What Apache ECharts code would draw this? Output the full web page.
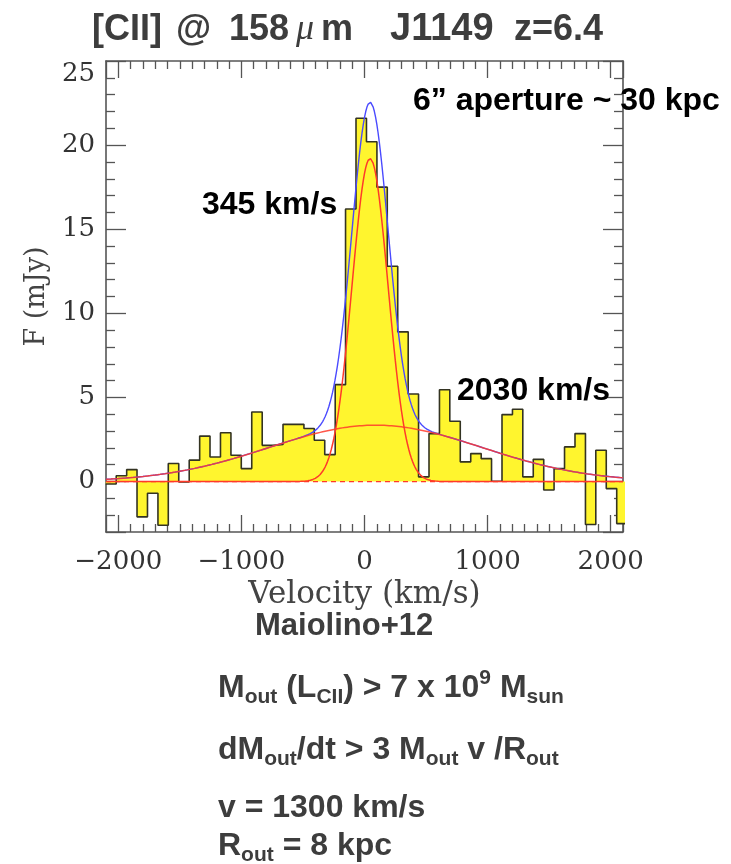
<!DOCTYPE html>
<html>
<head>
<meta charset="utf-8">
<title>[CII] 158 um spectrum of J1149</title>
<script src="https://cdn.jsdelivr.net/npm/echarts@6/dist/echarts.min.js"></script>
<style>
  html, body { margin: 0; padding: 0; background: #ffffff; }
  #chart { width: 731px; height: 864px; }
</style>
</head>
<body>
<div id="chart"></div>
<script>
// Spectrum channels: left edge of every channel (km/s), plus the closing edge
const channelEdges = [
  -2102, -2017, -1932, -1848, -1763, -1678, -1594, -1509, -1424, -1339,
  -1255, -1170, -1085, -1001, -916, -831, -747, -662, -577, -492,
  -408, -323, -238, -154, -69, 16, 101, 185, 270, 355,
  439, 524, 609, 693, 778, 863, 948, 1032, 1117, 1202,
  1286, 1371, 1456, 1540, 1625, 1710, 1795, 1879, 1964, 2049,
  2134
];
// Flux density in each channel (mJy)
const channelFlux = [
  -0.15, 0.34, 0.71, -2.1, -0.7, -2.6, 1.07, -0.02, 1.27, 2.7,
  1.46, 2.9, 1.56, 0.77, 4.13, 2.15, 2.2, 3.4, 3.4, 3.15,
  2.45, 1.6, 5.76, 16.2, 21.6, 20.2, 17.5, 12.8, 8.9, 5.2,
  0.28, 2.85, 5.46, 3.58, 1.17, 1.66, 1.36, 0.02, 3.98, 4.3,
  0.28, 1.32, -0.5, 0.77, 2.06, 2.85, -2.55, 1.86, -0.42, -2.5
];
// Two-Gaussian fit: narrow core and broad outflow wings
const fitAmplitude = [19.2, 3.35];   // mJy
const fitCenter = [45, 90];          // km/s
const fitFwhm = [345, 2030];         // km/s
// Axis ranges and tick labels
const velocityRange = [-2100, 2100];
const fluxRange = [-3, 25];
const velocityTickLabels = [-2000, -1000, 0, 1000, 2000];
const fluxTickLabels = [0, 5, 10, 15, 20, 25];

const SERIF = '"DejaVu Serif", "Liberation Serif", serif';
const SANS = '"Liberation Sans", Arial, Helvetica, sans-serif';
const RED = '#ff3a2a';
const BLUE = '#4a4aff';
const FRAME = '#555555';

function gaussian(v, a, c, fwhm) {
  const s = fwhm / 2.354820045;
  return a * Math.exp(-0.5 * Math.pow((v - c) / s, 2));
}

// histogram drawn as a step line from the channel edges
const histData = channelFlux.map((f, i) => [channelEdges[i], f]);
histData.push([channelEdges[channelEdges.length - 1], channelFlux[channelFlux.length - 1]]);

// model curves evaluated on a fine velocity grid
const grid = [];
for (let v = velocityRange[0]; v <= velocityRange[1]; v += 10) grid.push(v);
const narrowCurve = grid.map(v => [v, gaussian(v, fitAmplitude[0], fitCenter[0], fitFwhm[0])]);
const broadCurve = grid.map(v => [v, gaussian(v, fitAmplitude[1], fitCenter[1], fitFwhm[1])]);
const totalCurve = grid.map((v, i) => [v, narrowCurve[i][1] + broadCurve[i][1]]);
const zeroLevel = [[velocityRange[0], 0], [velocityRange[1], 0]];

const minus = s => String(s).replace('-', '\u2212');

function xAxisDef(pos, withLabels) {
  return {
    type: 'value', position: pos,
    min: velocityRange[0], max: velocityRange[1], splitNumber: 5,
    axisLine: { show: true, onZero: false, lineStyle: { color: FRAME, width: 1.6 } },
    axisTick: { show: true, inside: true, length: 17, lineStyle: { color: FRAME, width: 1.3 } },
    minorTick: { show: true, splitNumber: 10, length: 8, lineStyle: { color: FRAME, width: 1.3 } },
    splitLine: { show: false },
    axisLabel: {
      show: withLabels, margin: 17, color: '#333', fontFamily: SERIF, fontSize: 26,
      formatter: v => velocityTickLabels.includes(v) ? minus(v) : ''
    },
    name: withLabels ? 'Velocity (km/s)' : '',
    nameLocation: 'middle', nameGap: 45,
    nameTextStyle: { color: '#444', fontFamily: SERIF, fontSize: 31 }
  };
}

function yAxisDef(pos, withLabels) {
  return {
    type: 'value', position: pos,
    min: fluxRange[0], max: fluxRange[1], splitNumber: 5,
    axisLine: { show: true, onZero: false, lineStyle: { color: FRAME, width: 1.6 } },
    axisTick: { show: true, inside: true, length: 20, lineStyle: { color: FRAME, width: 1.3 } },
    minorTick: { show: true, splitNumber: 5, length: 9, lineStyle: { color: FRAME, width: 1.3 } },
    splitLine: { show: false },
    axisLabel: {
      show: withLabels, margin: 11, color: '#333', fontFamily: SERIF, fontSize: 26,
      formatter: v => {
        if (!fluxTickLabels.includes(v)) return '';
        return v === fluxRange[1] ? '{top|' + v + '}' : minus(v);
      },
      rich: { top: { padding: [26, 0, 0, 0], color: '#333', fontFamily: SERIF, fontSize: 26 } }
    },
    name: withLabels ? 'F (mJy)' : '',
    nameLocation: 'middle', nameGap: 56, nameRotate: 90,
    nameTextStyle: { color: '#444', fontFamily: SERIF, fontSize: 27 }
  };
}

const boldSans = size => 'bold ' + size + 'px ' + SANS;
const GREY = '#3d3d3d';

function label(x, y, text, color, font, rich) {
  const style = { text: text, fill: color, align: 'left', verticalAlign: 'middle' };
  if (font) style.font = font;
  if (rich) style.rich = rich;
  return { type: 'text', x: x, y: y, z: 100, style: style };
}

const eqRich = {
  m: { font: boldSans(32), fill: GREY, lineHeight: 40 },
  s: { font: boldSans(21), fill: GREY, lineHeight: 21, verticalAlign: 'bottom' },
  p: { font: boldSans(21), fill: GREY, lineHeight: 32, verticalAlign: 'top' }
};

// title pieces
const titleFont = boldSans(36);
const titleY = 30;

const option = {
  animation: false,
  backgroundColor: '#ffffff',
  grid: { left: 106, right: 108, top: 61, bottom: 332, show: false },
  xAxis: [xAxisDef('bottom', true), xAxisDef('top', false)],
  yAxis: [yAxisDef('left', true), yAxisDef('right', false)],
  series: [
    {
      name: 'spectrum', type: 'line', step: 'end', data: histData,
      showSymbol: false, symbol: 'none', z: 2,
      lineStyle: { color: '#333322', width: 1.6 },
      areaStyle: { color: '#fff52e', opacity: 1, origin: 0 }
    },
    {
      name: 'zero', type: 'line', data: zeroLevel, showSymbol: false, symbol: 'none', z: 3,
      lineStyle: { color: RED, width: 1.2, type: [5, 4] }
    },
    {
      name: 'total', type: 'line', data: totalCurve, showSymbol: false, symbol: 'none', z: 3,
      lineStyle: { color: BLUE, width: 1.4 }
    },
    {
      name: 'broad', type: 'line', data: broadCurve, showSymbol: false, symbol: 'none', z: 4,
      lineStyle: { color: RED, width: 1.5, opacity: 0.85 }
    },
    {
      name: 'narrow', type: 'line', data: narrowCurve, showSymbol: false, symbol: 'none', z: 4,
      lineStyle: { color: RED, width: 1.5 }
    }
  ],
  graphic: [
    label(92, titleY, '[CII]', GREY, titleFont),
    label(176, titleY, '@', GREY, titleFont),
    label(229, titleY, '158', GREY, titleFont),
    label(296, titleY, '\u03bc', GREY, 'italic 36px "Liberation Serif", serif'),
    label(321, titleY, 'm', GREY, titleFont),
    label(390, titleY, 'J1149', GREY, boldSans(38)),
    label(514, titleY, 'z=6.4', GREY, titleFont),
    label(413, 101, '6\u201d aperture ~ 30 kpc', '#000', boldSans(32)),
    label(202, 205, '345 km/s', '#000', boldSans(32)),
    label(457, 391, '2030 km/s', '#000', boldSans(32)),
    label(255, 626, 'Maiolino+12', GREY, boldSans(31)),
    label(218, 688, '{m|M}{s|out}{m| (L}{s|CII}{m|) > 7 x 10}{p|9}{m| M}{s|sun}', GREY, null, eqRich),
    label(218, 750, '{m|dM}{s|out}{m|/dt > 3 M}{s|out}{m| v /R}{s|out}', GREY, null, eqRich),
    label(218, 808, '{m|v = 1300 km/s}', GREY, null, eqRich),
    label(218, 846, '{m|R}{s|out}{m| = 8 kpc}', GREY, null, eqRich)
  ]
};

const chart = echarts.init(document.getElementById('chart'), null, { renderer: 'canvas' });
chart.setOption(option);
</script>
</body>
</html>
